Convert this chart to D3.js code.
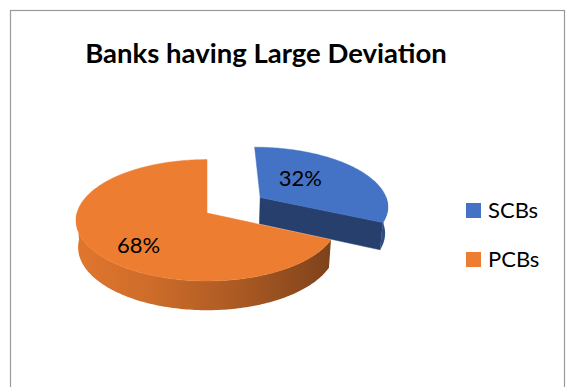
<!DOCTYPE html>
<html>
<head>
<meta charset="utf-8">
<script src="https://cdn.jsdelivr.net/npm/d3@7"></script>
<style>
  html, body { margin: 0; padding: 0; background: #ffffff; }
  svg { display: block; }
</style>
</head>
<body>
<svg id="chart" width="567" height="387"></svg>
<script>
// ---- data ----
const categories = ["SCBs", "PCBs"];
const shares = [32, 68];
const sliceColors = ["#4472C4", "#ED7D31"];
const chartTitle = "Banks having Large Deviation";

// ---- layout ----
const W = 567, H = 387;
const FONT = "Lato, 'Open Sans', 'DejaVu Sans', sans-serif";
const view = {
  phi: 29 * Math.PI / 180, // camera elevation
  dist: 7.4,               // camera distance, in pie radii
  depth: 0.236,            // slab thickness, in pie radii
  cx: 207, cy: 213,        // screen position of the pie's top centre
  rx: 130                  // on-screen radius across the middle
};
const explodeBy = [0.5, 0];      // radial pull-out per slice
const labelRadius = [0.4, 0.6];  // label anchor along each slice's mid-ray
const labelShift = [-8, 12];     // vertical nudge of each label

const svg = d3.select("#chart");
const defs = svg.append("defs");

// chart-area frame
svg.append("rect")
  .attr("x", 10.5).attr("y", 10.5)
  .attr("width", 554).attr("height", 420)
  .attr("fill", "#ffffff")
  .attr("stroke", "#9a9a9a").attr("stroke-width", 1.2);

// title
svg.append("text")
  .attr("x", 266).attr("y", 63)
  .attr("text-anchor", "middle")
  .attr("font-family", FONT)
  .attr("font-weight", 700)
  .attr("font-size", 27.5)
  .attr("fill", "#000")
  .text(chartTitle);

// ---- perspective projection of the pie slab ----
const sinP = Math.sin(view.phi), cosP = Math.cos(view.phi);
const F = view.rx * (view.dist - view.depth * sinP);
const yUp0 = F * view.depth * cosP / (view.dist - view.depth * sinP);
function project(u, v, z) {
  const d = view.dist - (v * cosP + z * sinP);
  const x = view.cx + F * u / d;
  const y = view.cy - (F * (-v * sinP + z * cosP) / d - yUp0);
  return [x, y];
}

const data = categories.map((c, i) => ({ name: c, value: shares[i], color: sliceColors[i], idx: i }));
const arcs = d3.pie().sort(null).value(d => d.value).startAngle(0).endAngle(2 * Math.PI)(data);

arcs.forEach(a => {
  const mid = (a.startAngle + a.endAngle) / 2;
  const e = explodeBy[a.data.idx];
  a.ou = e * Math.sin(mid);
  a.ov = -e * Math.cos(mid);
  a.mid = mid;
});

const pt = (a, theta, r, z) => project(a.ou + r * Math.sin(theta), a.ov - r * Math.cos(theta), z);
const line = d3.line();
const h = view.depth;

function arcPoints(a, t0, t1, z) {
  const n = Math.max(2, Math.ceil((t1 - t0) / 0.02));
  return d3.range(n + 1).map(k => pt(a, t0 + (t1 - t0) * k / n, 1, z));
}

// far slices first
const order = arcs.slice().sort((p, q) => p.ov - q.ov);
const layer = svg.append("g");

order.forEach(a => {
  const g = layer.append("g");
  const base = d3.color(a.data.color);

  // radial cut faces that turn toward the viewer
  [[a.startAngle, -1], [a.endAngle, 1]].forEach(([t, sgn]) => {
    if (sgn * Math.sin(t) > 1e-6) {
      const poly = [pt(a, 0, 0, h), pt(a, t, 1, h), pt(a, t, 1, 0), pt(a, 0, 0, 0)];
      g.append("path")
        .attr("d", line(poly) + "Z")
        .attr("fill", base.darker(1.65))
        .attr("stroke", base.darker(1.65)).attr("stroke-width", 0.5);
    }
  });

  // outer wall (front half only)
  const w0 = Math.max(a.startAngle, Math.PI / 2);
  const w1 = Math.min(a.endAngle, 3 * Math.PI / 2);
  if (w1 > w0) {
    const topEdge = arcPoints(a, w0, w1, h);
    const botEdge = arcPoints(a, w0, w1, 0).reverse();
    const xs = topEdge.map(p => p[0]);
    const gid = "wall" + a.data.idx;
    const grad = defs.append("linearGradient")
      .attr("id", gid).attr("gradientUnits", "userSpaceOnUse")
      .attr("x1", d3.min(xs)).attr("x2", d3.max(xs)).attr("y1", 0).attr("y2", 0);
    const stops = a.data.idx === 0
      ? [[0, 1.1], [1, 1.1]]
      : [[0, 0.15], [0.3, 0.4], [0.65, 0.95], [0.9, 1.5], [1, 1.8]];
    stops.forEach(([o, k]) => grad.append("stop").attr("offset", o).attr("stop-color", base.darker(k)));
    g.append("path")
      .attr("d", line(topEdge.concat(botEdge)) + "Z")
      .attr("fill", `url(#${gid})`);
  }

  // top face
  const top = [pt(a, 0, 0, h)].concat(arcPoints(a, a.startAngle, a.endAngle, h));
  g.append("path")
    .attr("d", line(top) + "Z")
    .attr("fill", base)
    .attr("stroke", base).attr("stroke-width", 0.5);
});

// data labels
arcs.forEach(a => {
  const i = a.data.idx;
  const [x, y] = pt(a, a.mid, labelRadius[i], h);
  svg.append("text")
    .attr("x", x).attr("y", y + labelShift[i])
    .attr("text-anchor", "middle")
    .attr("dominant-baseline", "central")
    .attr("font-family", FONT)
    .attr("font-size", 22)
    .attr("fill", "#000")
    .text(a.data.value + "%");
});

// legend
const legend = svg.append("g");
data.forEach((d, i) => {
  const y = 203 + i * 49;
  legend.append("rect")
    .attr("x", 466).attr("y", y)
    .attr("width", 15).attr("height", 15)
    .attr("fill", d.color);
  legend.append("text")
    .attr("x", 488).attr("y", y + 15)
    .attr("font-family", FONT)
    .attr("font-size", 22)
    .attr("fill", "#000")
    .text(d.name);
});
</script>
</body>
</html>
